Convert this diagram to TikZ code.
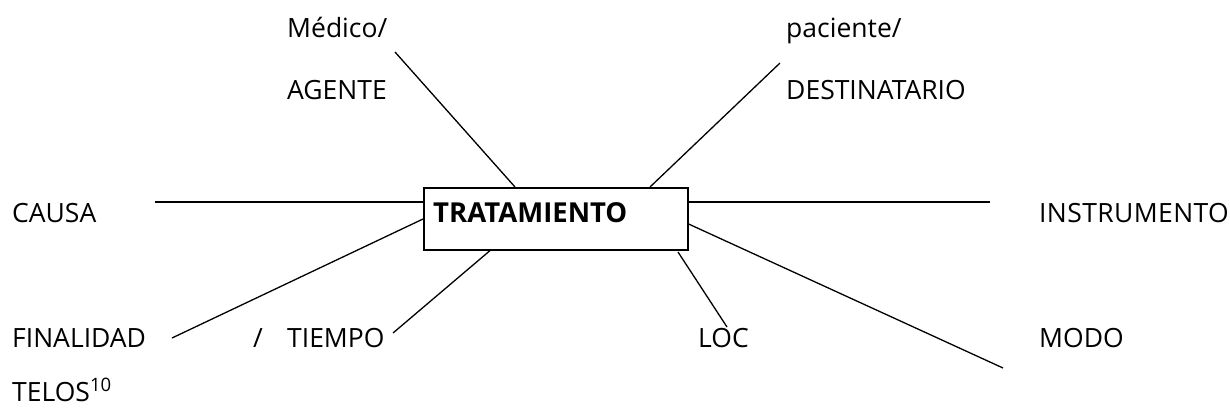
\documentclass[tikz,border=0pt]{standalone}
\usepackage{fontspec}
\setmainfont{Open Sans}
\begin{document}
\begin{tikzpicture}[x=1pt,y=-1pt,
  lbl/.style={anchor=base west,inner sep=0pt,font=\fontsize{26.5}{30}\selectfont},
  conn/.style={line width=1.3pt},
  box/.style={draw,line width=1.6pt,minimum width=264pt,minimum height=62pt,anchor=north west,inner sep=0pt}]
\useasboundingbox (0,0) rectangle (1230,410);
\node[box] (T) at (423,187) {};
\node[lbl,font=\fontsize{27.5}{30}\selectfont\bfseries] (Tt) at (433,222) {TRATAMIENTO};
% labels
\node[lbl] (med) at (287,37) {Médico/};
\node[lbl] (age) at (287,99) {AGENTE};
\node[lbl] (pac) at (786,37) {paciente/};
\node[lbl] (des) at (786,99) {DESTINATARIO};
\node[lbl] (cau) at (12,222) {CAUSA};
\node[lbl] (ins) at (1039,222) {\addfontfeature{LetterSpace=1.5}INSTRUMENTO};
\node[lbl] (fin) at (12,347) {FINALIDAD};
\node[lbl] (sl) at (253,347) {/};
\node[lbl] (tie) at (287,347) {TIEMPO};
\node[lbl] (loc) at (698,347) {LOC};
\node[lbl] (mod) at (1039,347) {MODO};
\node[lbl] (tel) at (12,401) {TELOS\textsuperscript{10}};
% free ends
\coordinate (a1) at (395,52);
\coordinate (d1) at (780,63);
\coordinate (c1) at (155,202);
\coordinate (i1) at (990,202);
\coordinate (f1) at (172,338);
\coordinate (t1) at (393,333);
\coordinate (l1) at (727,327);
\coordinate (m1) at (1003,368);
% connectors
\draw[conn] (a1) -- (T.north west -| 515,0);
\draw[conn] (d1) -- (T.north west -| 650,0);
\draw[conn] (c1) -- (T.west |- 0,202);
\draw[conn] (T.east |- 0,202) -- (i1);
\draw[conn] (f1) -- (T.west |- 0,219);
\draw[conn] (t1) -- (T.south west -| 490,0);
\draw[conn] (678,252) -- (l1);
\draw[conn] (T.east |- 0,224) -- (m1);
\end{tikzpicture}
\end{document}
